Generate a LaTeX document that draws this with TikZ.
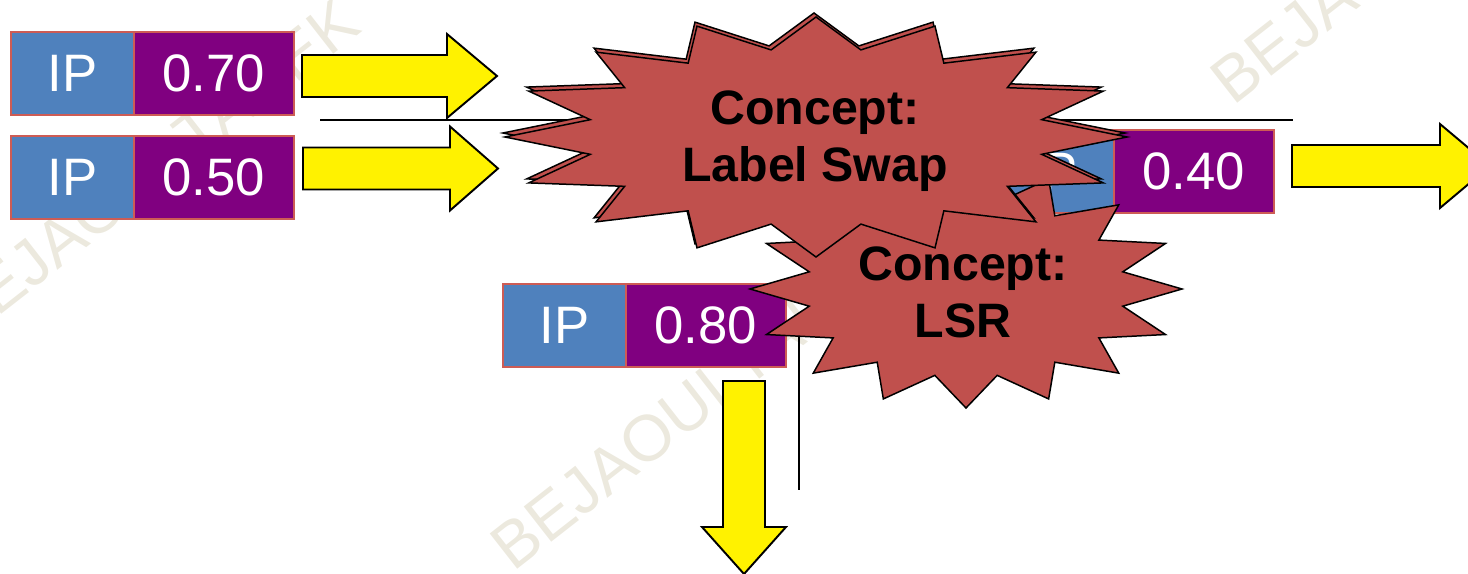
\documentclass[tikz,border=0pt]{standalone}
\usepackage{fontspec}
\setmainfont{Liberation Sans}
\usetikzlibrary{positioning}
\definecolor{ipblue}{HTML}{4F81BD}
\definecolor{labpurple}{HTML}{800080}
\definecolor{burstred}{HTML}{C0504D}
\definecolor{edgered}{HTML}{CD5C55}
\definecolor{wmarkgrey}{HTML}{ECE9DE}
\tikzstyle{ipbox} = [rectangle, minimum width=2.46cm, minimum height=1.66cm, inner sep=0pt, outer sep=0pt, text centered, draw=edgered, line width=1pt, fill=ipblue, text=white, font=\fontsize{30}{36}\selectfont]
\tikzstyle{labbox} = [ipbox, minimum width=3.2cm, fill=labpurple]
\tikzstyle{yarrow} = [draw=black, line width=1.1pt, fill=yellow, line join=miter]
\tikzstyle{burst} = [draw=black, line width=0.85pt, fill=burstred]
\tikzstyle{concept} = [align=center, font=\fontsize{27.5}{32.5}\selectfont\bfseries]
\tikzstyle{wire} = [draw=black, line width=0.85pt]
\tikzstyle{wmark} = [text=wmarkgrey, rotate=38, font=\fontsize{37}{40}\selectfont]

\begin{document}
\begin{tikzpicture}[x=0.02cm, y=-0.02cm]
	\useasboundingbox (0,0) rectangle (1468,574);
	% watermark
	\node (wm1) [wmark] at (150,170) {BEJAOUI TAREK};
	\node (wm2) [wmark] at (700,398) {BEJAOUI TAREK};
	\node (wm3) [wmark] at (1420,-68) {BEJAOUI TAREK};

	% thin lines
	\coordinate (h1) at (320,120);
	\coordinate (h2) at (1293,120);
	\coordinate (v1) at (799,333);
	\coordinate (v2) at (799,490);
	\draw [wire] (h1) -- (h2);
	\draw [wire] (v1) -- (v2);

	% packets
	\node (ip1) [ipbox] at (72.5,73.5) {IP};
	\node (lab1) [labbox, right=0pt of ip1] {0.70};
	\node (ip2) [ipbox] at (72.5,177.5) {IP};
	\node (lab2) [labbox, right=0pt of ip2] {0.50};
	\node (ip4) [ipbox] at (564.5,325.5) {IP};
	\node (lab4) [labbox, right=0pt of ip4] {0.80};
	\node (ip3) [ipbox] at (1052.5,171.5) {IP};
	\node (lab3) [labbox, right=0pt of ip3] {0.40};

	% yellow arrows
	\coordinate (arr1) at (302,76);
	\coordinate (arr2) at (303,168.5);
	\coordinate (arr3) at (1292,166);
	\coordinate (arr4) at (744,381);
	\draw [yarrow] (arr1) ++(0,-21) -- ++(145,0) -- ++(0,-21) -- ++(50,42) -- ++(-50,42) -- ++(0,-21) -- ++(-145,0) -- cycle;
	\draw [yarrow] (arr2) ++(0,-21) -- ++(147,0) -- ++(0,-21) -- ++(48,42) -- ++(-48,42) -- ++(0,-21) -- ++(-147,0) -- cycle;
	\draw [yarrow] (arr3) ++(0,-21) -- ++(148,0) -- ++(0,-21) -- ++(50,42) -- ++(-50,42) -- ++(0,-21) -- ++(-148,0) -- cycle;
	\draw [yarrow] (arr4) ++(-21,0) -- ++(0,146) -- ++(-21,0) -- ++(42,47) -- ++(42,-47) -- ++(-21,0) -- ++(0,-146) -- cycle;

	% bursts
	\path [burst] plot [samples at={0,...,31}, variable=\k] ({966+216*cos(11.25*\k)*(1-0.26*mod(\k,2))}, {289+119*sin(11.25*\k)*(1-0.26*mod(\k,2))}) -- cycle;
	\node (lsr) [concept] at (963,292) {Concept:\\LSR};
	\path [burst] plot [samples at={0,...,31}, variable=\k] ({814+311*cos(11.25*\k)*(1-0.26*mod(\k,2))}, {133+120*sin(11.25*\k)*(1-0.26*mod(\k,2))}) -- cycle;	% shadow
	\path [burst] plot [samples at={0,...,31}, variable=\k] ({816+311*cos(11.25*\k)*(1-0.26*mod(\k,2))}, {137+120*sin(11.25*\k)*(1-0.26*mod(\k,2))}) -- cycle;
	\node (swap) [concept] at (815,141) {Concept:\\Label Swap};
\end{tikzpicture}
\end{document}
